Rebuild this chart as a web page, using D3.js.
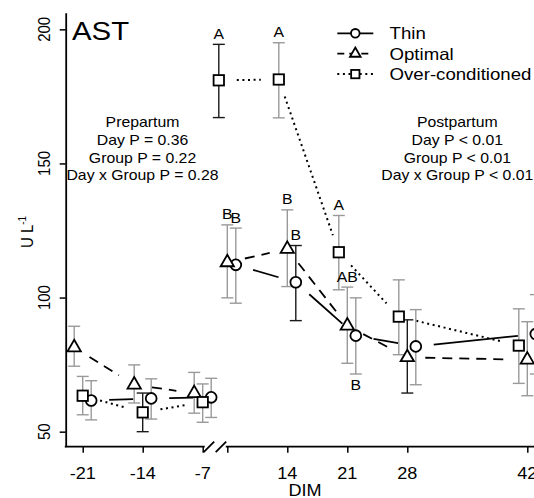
<!DOCTYPE html>
<html><head><meta charset="utf-8">
<script src="https://cdn.jsdelivr.net/npm/d3@7"></script>
<style>body{margin:0;background:#fff}svg{display:block}text{font-family:"Liberation Sans",Arial,sans-serif;fill:#000}</style>
</head><body>
<script>
// ---- data ----
const days = [-21, -14, -7, 7, 14, 21, 28, 42];
const dayLabels = ["-21", "-14", "-7", "", "14", "21", "28", "42"];
const groups = ["Thin", "Optimal", "Over-conditioned"];
const thinMean  = [61.6, 62.4, 62.8, 112.2, 105.7, 85.8, 81.8, 86.4];
const thinLow   = [54.4, 54.7, 55.3, 97.9, 91.4, 71.5, 67.5, 71.5];
const thinHigh  = [69.0, 69.7, 69.9, 125.9, 119.4, 99.9, 95.5, 101.1];
const optMean   = [81.4, 67.5, 64.3, 113.1, 118.1, 89.5, 77.7, 76.8];
const optLow    = [74.4, 60.7, 56.9, 99.9, 104.1, 75.5, 64.4, 63.4];
const optHigh   = [89.3, 74.9, 72.1, 127.1, 132.7, 103.9, 91.7, 91.0];
const overMean  = [63.4, 57.2, 61.0, 181.0, 181.3, 116.9, 92.9, 82.1];
const overLow   = [56.3, 50.0, 53.5, 167.1, 167.0, 102.9, 78.7, 68.0];
const overHigh  = [70.6, 64.4, 67.8, 194.4, 195.0, 130.6, 106.6, 95.8];
const thinLetters = ["", "", "", "B", "B", "B", "", ""];
const optLetters  = ["", "", "", "B", "B", "AB", "", ""];
const overLetters = ["", "", "", "A", "A", "A", "", ""];
const yTicks = [50, 100, 150, 200];
const prepText  = ["Prepartum", "Day P = 0.36", "Group P = 0.22", "Day x Group P = 0.28"];
const postText  = ["Postpartum", "Day P < 0.01", "Group P < 0.01", "Day x Group P < 0.01"];

// ---- styles ----
const SX = 1.13;
const series = [
  {name: groups[0], mean: thinMean, low: thinLow, high: thinHigh, letters: thinLetters, shape: "circle", dash: null},
  {name: groups[1], mean: optMean, low: optLow, high: optHigh, letters: optLetters, shape: "triangle", dash: "10,7"},
  {name: groups[2], mean: overMean, low: overLow, high: overHigh, letters: overLetters, shape: "square", dash: "2,3.6"}
];
const dodgePre  = {"Optimal": -8.5, "Over-conditioned": 0, "Thin": 8.5};
const dodgePost = {"Over-conditioned": -8.5, "Optimal": 0, "Thin": 8.5};
const darkBars = {"Over-conditioned": [-14, 7], "Thin": [14], "Optimal": [28]};
const letterBelow = {"Thin": [21]};

const W = 534, H = 498;
const svg = d3.select("body").append("svg").attr("width", W).attr("height", H);
svg.append("rect").attr("width", W).attr("height", H).attr("fill", "#fff");

const x = d3.scaleLinear().domain([-21, -7, 7, 42]).range([82.7, 202.7, 227.3, 527.3]);
const y = d3.scaleLinear().domain([44.4, 206.2]).range([446.7, 12.7]);
const axX = 65.7, axY = 446.7;

function txt(g, px, py, s, size, anchor, rot) {
  return g.append("text")
    .attr("transform", `translate(${px},${py}) scale(${SX},1)` + (rot ? ` rotate(${rot})` : ""))
    .attr("text-anchor", anchor || "middle")
    .style("font-size", size + "px")
    .text(s);
}

// ---- y axis ----
const yAx = svg.append("g").attr("transform", `translate(${axX},0)`)
  .call(d3.axisLeft(y).tickValues(yTicks).tickSize(6).tickSizeOuter(0).tickFormat(""));
yAx.select(".domain").attr("stroke-width", 1.8);
yAx.selectAll(".tick line").attr("stroke-width", 1.5);
yTicks.forEach(v => txt(svg, 50, y(v), String(v), 15, "middle", -90));

// ---- x axis ----
const xAx = svg.append("g").attr("transform", `translate(0,${axY})`)
  .call(d3.axisBottom(x).tickValues(days).tickSize(6).tickFormat(""));
xAx.select(".domain").remove();
xAx.selectAll(".tick line").attr("stroke-width", 1.5);
const xl = svg.append("g").attr("stroke", "#000").attr("stroke-width", 1.8).attr("fill", "none");
xl.append("line").attr("x1", axX - 0.9).attr("x2", x(-7) + 2).attr("y1", axY).attr("y2", axY);
xl.append("line").attr("x1", x(7) - 1.5).attr("x2", W + 20).attr("y1", axY).attr("y2", axY);
xl.append("line").attr("x1", x(-7) + 1).attr("y1", axY + 5.5).attr("x2", x(-7) + 11.5).attr("y2", axY - 5);
xl.append("line").attr("x1", x(-7) + 13).attr("y1", axY + 5.5).attr("x2", x(-7) + 23.5).attr("y2", axY - 5);
days.forEach((d, i) => { if (dayLabels[i]) txt(svg, x(d), 479, dayLabels[i], 16, "middle"); });
txt(svg, 305, 496, "DIM", 16, "middle");

// y label
const yl = txt(svg, 33, 232, "", 15, "middle", -90);
yl.append("tspan").text("U L");
yl.append("tspan").attr("dy", -6).style("font-size", "10px").text("-1");

// title
txt(svg, 72, 40, "AST", 26, "start");

// ---- marks ----
function px(s, i) {
  const d = days[i];
  const off = d < 0 ? dodgePre[s.name] : dodgePost[s.name];
  return x(d) + off;
}
function marker(g, shape, cx, cy, k) {
  if (shape === "circle") {
    g.append("circle").attr("cx", cx).attr("cy", cy).attr("r", 5.4 * k)
      .attr("fill", "#fff").attr("stroke", "#000").attr("stroke-width", 1.8);
  } else if (shape === "square") {
    const h = 5.2 * k;
    g.append("rect").attr("x", cx - h).attr("y", cy - h).attr("width", 2 * h).attr("height", 2 * h)
      .attr("fill", "#fff").attr("stroke", "#000").attr("stroke-width", 1.8);
  } else {
    const u = 4.94 * k;
    const p = [[cx, cy - 1.555 * u], [cx + 1.347 * u, cy + 0.778 * u], [cx - 1.347 * u, cy + 0.778 * u]];
    g.append("path").attr("d", "M" + p.map(q => q.join(",")).join("L") + "Z")
      .attr("fill", "#fff").attr("stroke", "#000").attr("stroke-width", 1.8).attr("stroke-linejoin", "miter");
  }
}

const gLines = svg.append("g"), gErr = svg.append("g"), gPts = svg.append("g"), gLab = svg.append("g");
const GAP = 18;
series.forEach(s => {
  // connecting lines with gaps (type = "b")
  for (let i = 0; i < days.length - 1; i++) {
    if ((days[i] < 0) !== (days[i + 1] < 0)) continue;
    const x1 = px(s, i), y1 = y(s.mean[i]), x2 = px(s, i + 1), y2 = y(s.mean[i + 1]);
    const L = Math.hypot(x2 - x1, y2 - y1);
    if (L <= 2 * GAP) continue;
    const ux = (x2 - x1) / L, uy = (y2 - y1) / L;
    const ln = gLines.append("line")
      .attr("x1", x1 + ux * GAP).attr("y1", y1 + uy * GAP)
      .attr("x2", x2 - ux * GAP).attr("y2", y2 - uy * GAP)
      .attr("stroke", "#000").attr("stroke-width", s.dash === "2,3.6" ? 2 : 1.8);
    if (s.dash) ln.attr("stroke-dasharray", s.dash);
  }
  days.forEach((d, i) => {
    const cx = px(s, i);
    const dark = (darkBars[s.name] || []).includes(d);
    const col = dark ? "#1a1a1a" : "#9a9a9a";
    const eg = gErr.append("g").attr("stroke", col).attr("stroke-width", 1.4);
    eg.append("line").attr("x1", cx).attr("x2", cx).attr("y1", y(s.low[i])).attr("y2", y(s.high[i]));
    eg.append("line").attr("x1", cx - 6).attr("x2", cx + 6).attr("y1", y(s.low[i])).attr("y2", y(s.low[i]));
    eg.append("line").attr("x1", cx - 6).attr("x2", cx + 6).attr("y1", y(s.high[i])).attr("y2", y(s.high[i]));
    marker(gPts, s.shape, cx, y(s.mean[i]), 1);
    if (s.letters[i]) {
      const below = (letterBelow[s.name] || []).includes(d);
      const ly = below ? y(s.low[i]) + 16 : y(s.high[i]) - 5.5;
      txt(gLab, cx, ly, s.letters[i], 14, "middle");
    }
  });
});

// ---- annotations ----
const baseY = [127.3, 144.9, 162.5, 180.1];
prepText.forEach((t, i) => txt(svg, 142.5, baseY[i], t, 14, "middle"));
postText.forEach((t, i) => txt(svg, 457.3, baseY[i], t, 14, "middle"));

// ---- legend ----
const lg = svg.append("g");
series.forEach((s, i) => {
  const ly = 33.3 + i * 20.4;
  const ln = lg.append("line").attr("x1", 337.3).attr("x2", 373.3).attr("y1", ly).attr("y2", ly)
    .attr("stroke", "#000").attr("stroke-width", s.dash === "2,3.6" ? 2 : 1.8);
  if (s.dash) ln.attr("stroke-dasharray", s.dash === "10,7" ? "7,5" : s.dash);
  marker(lg, s.shape, 355.3, ly, 0.8);
  txt(lg, 389.5, ly + 6, s.name, 16.5, "start");
});
</script>
</body></html>
